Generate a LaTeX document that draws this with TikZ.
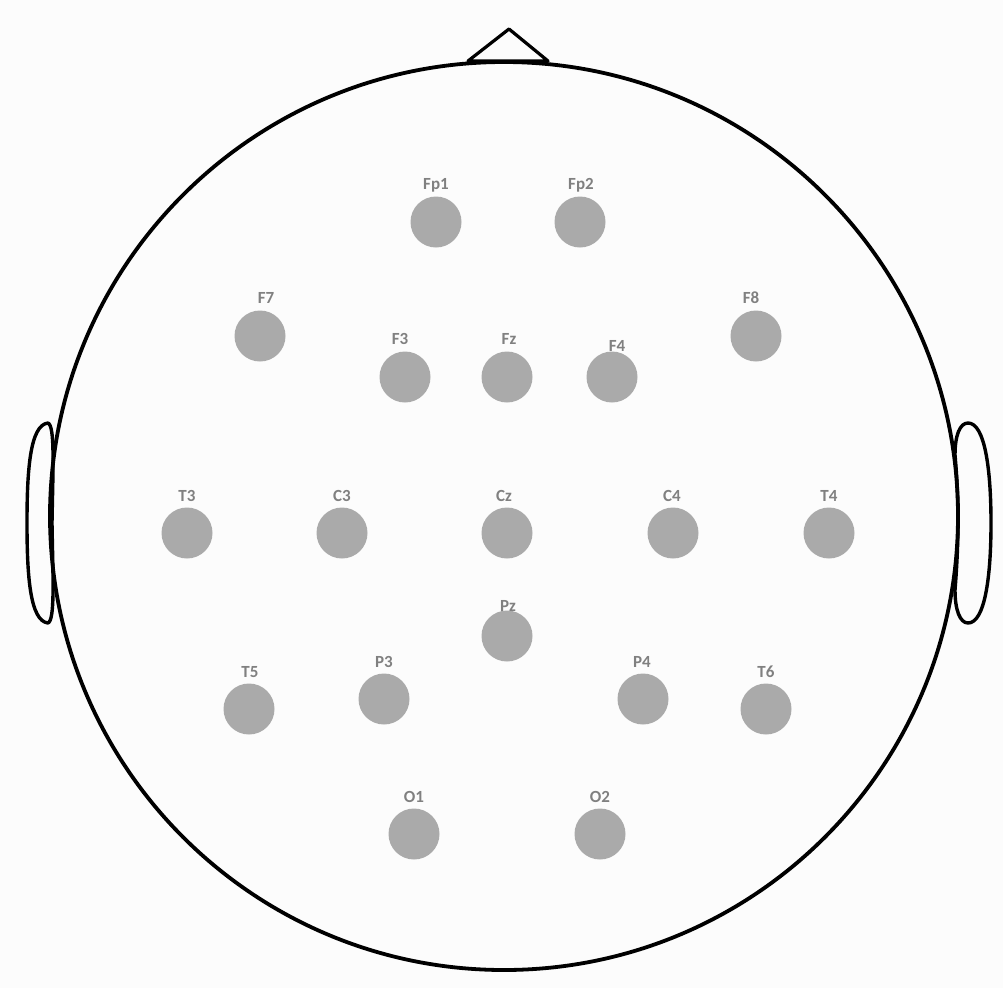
\documentclass[tikz,border=0pt]{standalone}
\usepackage{fontspec}
\setmainfont{Carlito}
\definecolor{elec}{RGB}{170,170,170}
\definecolor{lab}{RGB}{128,128,128}
\definecolor{bg}{RGB}{252,252,252}
\begin{document}
\begin{tikzpicture}[x=1pt,y=-1pt,
  electrode/.style={circle,fill=elec,minimum size=51pt,inner sep=0pt},
  elabel/.style={anchor=base,text=lab,font=\fontsize{17}{17}\selectfont\bfseries,inner sep=0pt},
  outline/.style={draw=black,line width=3.8pt,line join=round}]
\fill[bg] (0,0) rectangle (1003,988);
\useasboundingbox (0,0) rectangle (1003,988);
% head
\node[outline,circle,minimum size=908pt,inner sep=0pt] (head) at (504,516) {};
% nose
\coordinate (nl) at (468,61);
\coordinate (nt) at (509,29);
\coordinate (nr) at (548,61);
\draw[outline,line width=3.2pt] (nl) -- (nt) -- (nr) -- cycle;
% ears
\draw[outline,line width=3.4pt] (48,423) .. controls (30,425) and (27,470) .. (27,523)
  .. controls (27,576) and (30,621) .. (48,623)
  .. controls (55,620) and (53,580) .. (52,523)
  .. controls (53,466) and (55,426) .. (48,423) -- cycle;
\draw[outline,line width=3.4pt] (968,423) .. controls (985,423) and (991,470) .. (991,523)
  .. controls (991,576) and (985,623) .. (968,623)
  .. controls (960,623) and (955,610) .. (955,590)
  .. controls (959,540) and (959,500) .. (955,455)
  .. controls (955,435) and (960,423) .. (968,423) -- cycle;
% electrodes
\foreach \n/\x/\y/\lx/\ly in {
  Fp1/436/222/436/189, Fp2/580/222/581/189,
  F7/260/336/266/303, F8/756/336/751/303,
  F3/405/377/400/344, Fz/507/377/509/344, F4/612/377/617/351,
  T3/187/533/187/501, C3/342/533/342/501, Cz/507/533/504/501, C4/673/533/672/501, T4/829/533/829/501,
  Pz/507/636/508/611,
  T5/249/709/250/677, P3/384/699/384/667, P4/643/699/642/667, T6/766/709/766/677,
  O1/414/834/414/802, O2/600/834/600/802}{
  \node[electrode] (e\n) at (\x,\y) {};
  \node[elabel] (l\n) at (\lx,\ly) {\n};
}
\end{tikzpicture}
\end{document}
